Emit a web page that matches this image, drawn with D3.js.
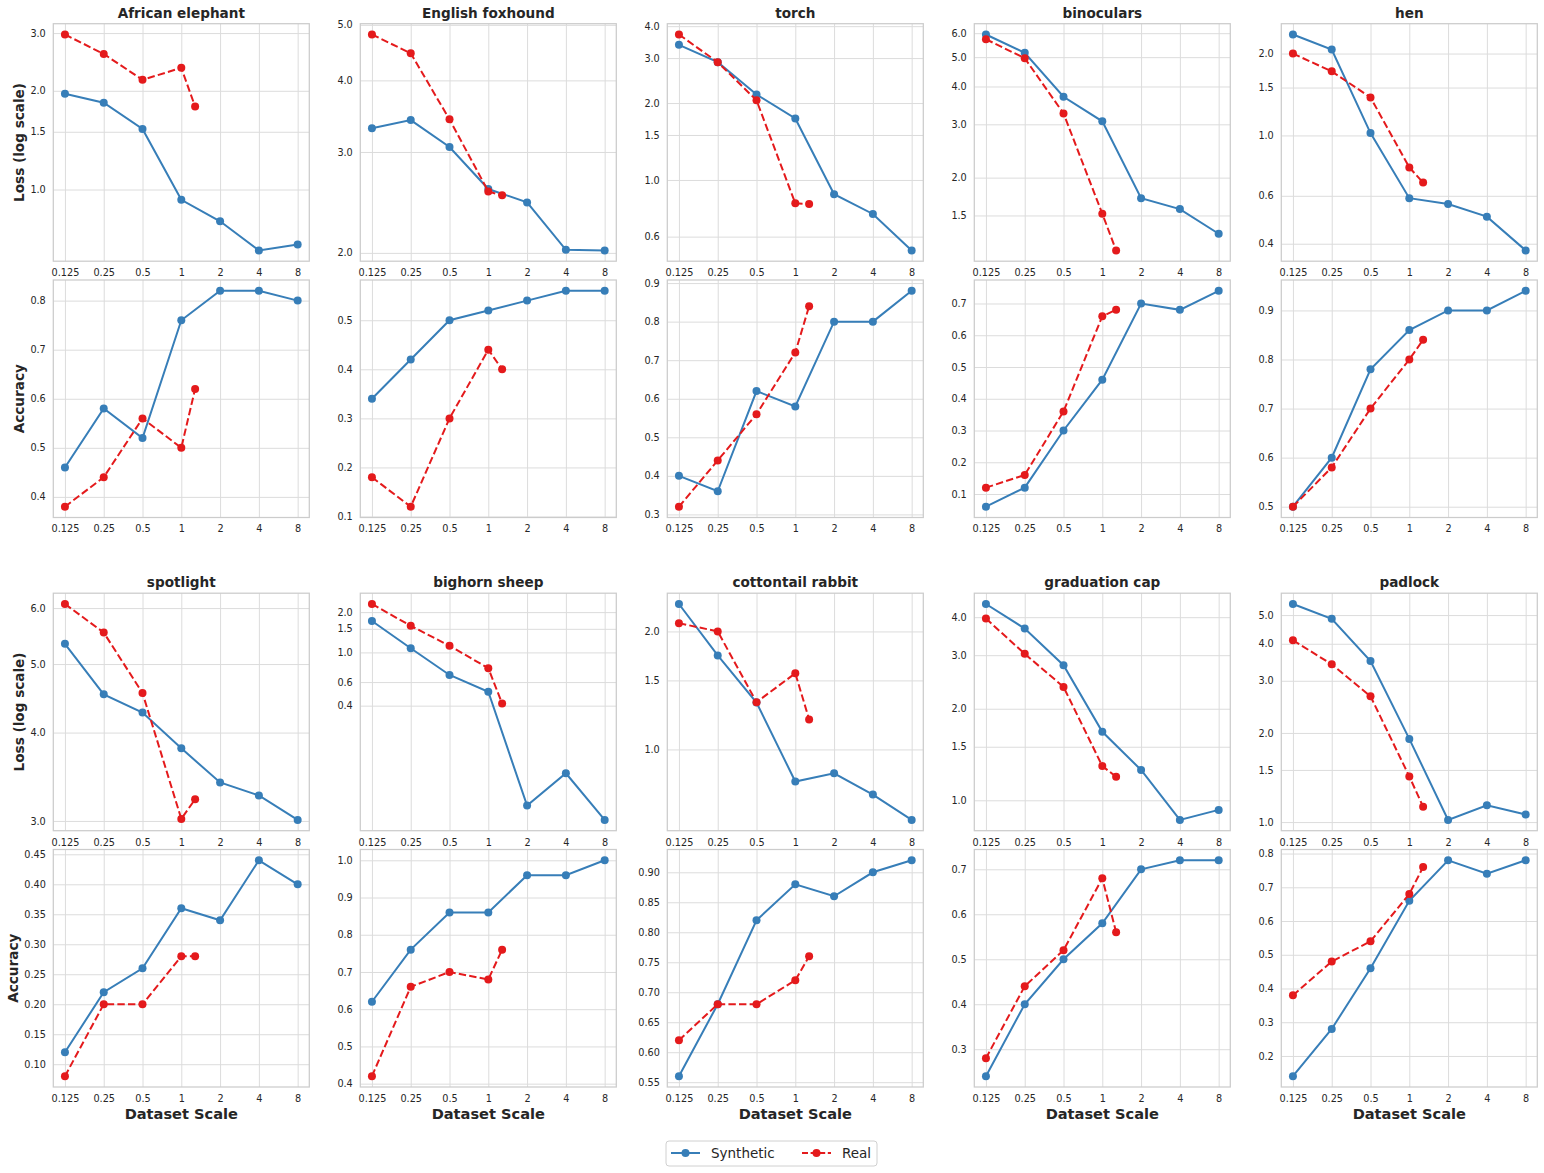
<!DOCTYPE html>
<html><head><meta charset="utf-8">
<script src="https://cdn.jsdelivr.net/npm/d3@7"></script>
<style>
body{margin:0;background:#fff}
svg{display:block;font-family:"DejaVu Sans",sans-serif}
</style>
</head><body>
<svg id="chart" width="1544" height="1173"></svg>
<script>
// ---------------- data ----------------
const classes = ["African elephant","English foxhound","torch","binoculars","hen",
                 "spotlight","bighorn sheep","cottontail rabbit","graduation cap","padlock"];
const scales = [0.125,0.25,0.5,1,2,4,8];
const scaleLabels = ["0.125","0.25","0.5","1","2","4","8"];
const realScales = [0.125,0.25,0.5,1,1.28];
const seriesNames = ["Synthetic","Real"];

const synthLoss = [
  [1.96,1.84,1.53,0.93,0.80,0.652,0.68],
  [3.30,3.41,3.06,2.585,2.45,2.025,2.02],
  [3.38,2.89,2.16,1.74,0.88,0.736,0.53],
  [5.94,5.17,3.70,3.07,1.71,1.575,1.305],
  [2.35,2.07,1.02,0.588,0.56,0.503,0.378],
  [5.34,4.53,4.27,3.80,3.40,3.26,3.01],
  [1.715,1.075,0.678,0.508,0.0716,0.125,0.056],
  [2.35,1.737,1.317,0.828,0.869,0.767,0.661],
  [4.42,3.67,2.78,1.68,1.258,0.862,0.93],
  [5.45,4.86,3.50,1.909,1.017,1.139,1.06]
];
const realLoss = [
  [2.97,2.59,2.16,2.35,1.79],
  [4.81,4.46,3.42,2.56,2.52],
  [3.71,2.89,2.05,0.81,0.806],
  [5.73,4.96,3.26,1.52,1.15],
  [2.00,1.72,1.38,0.763,0.671],
  [6.08,5.54,4.55,3.02,3.22],
  [2.30,1.58,1.12,0.762,0.415],
  [2.10,2.00,1.32,1.564,1.193],
  [3.96,3.03,2.36,1.296,1.195],
  [4.11,3.41,2.66,1.426,1.127]
];
const synthAcc = [
  [0.46,0.58,0.52,0.76,0.82,0.82,0.80],
  [0.34,0.42,0.50,0.52,0.54,0.56,0.56],
  [0.40,0.36,0.62,0.58,0.80,0.80,0.88],
  [0.06,0.12,0.30,0.46,0.70,0.68,0.74],
  [0.50,0.60,0.78,0.86,0.90,0.90,0.94],
  [0.12,0.22,0.26,0.36,0.34,0.44,0.40],
  [0.62,0.76,0.86,0.86,0.96,0.96,1.00],
  [0.56,0.68,0.82,0.88,0.86,0.90,0.92],
  [0.24,0.40,0.50,0.58,0.70,0.72,0.72],
  [0.14,0.28,0.46,0.66,0.78,0.74,0.78]
];
const realAcc = [
  [0.38,0.44,0.56,0.50,0.62],
  [0.18,0.12,0.30,0.44,0.40],
  [0.32,0.44,0.56,0.72,0.84],
  [0.12,0.16,0.36,0.66,0.68],
  [0.50,0.58,0.70,0.80,0.84],
  [0.08,0.20,0.20,0.28,0.28],
  [0.42,0.66,0.70,0.68,0.76],
  [0.62,0.68,0.68,0.72,0.76],
  [0.28,0.44,0.52,0.68,0.56],
  [0.38,0.48,0.54,0.68,0.76]
];
const lossTicks = [0.4,0.6,1.0,1.5,2.0,3.0,4.0,5.0,6.0];

// ---------------- style / layout ----------------
const COLORS = {Synthetic:"#377eb8", Real:"#e41a1c"};
const TXT = "#262626";
const GRID = "#dcdcdc";
const SPINE = "#cccccc";
const colLeft = [53.3,360.3,667.3,974.3,1281.3];
const PW = 256, PH = 237.5;
const blockTop = [23.7, 593.2];
const ROWSTEP = 256.3;
const TICKFS = 9.7;

const svg = d3.select("#chart");
svg.append("rect").attr("width",1544).attr("height",1173).attr("fill","#fff");

function niceAccTicks(lo, hi){
  const raw = (hi-lo)/9;
  const mags = [1,2,2.5,5,10];
  const p = Math.pow(10, Math.floor(Math.log10(raw)));
  let step = 10*p;
  for (const m of mags){ if (m*p >= raw - 1e-12){ step = m*p; break; } }
  const dec = Math.max(0, Math.ceil(-Math.log10(step) - 1e-9) + ((step/Math.pow(10,Math.floor(Math.log10(step))))%1 ? 1 : 0));
  const ticks = [];
  for (let i = Math.ceil(lo/step - 1e-9); i <= Math.floor(hi/step + 1e-9); i++) ticks.push(+(i*step).toFixed(6));
  return {ticks, dec};
}

function panel(x0, y0, synth, real, kind, opts){
  const g = svg.append("g");
  const x = d3.scaleLog().base(2)
     .domain([0.125/Math.pow(2,0.3), 8*Math.pow(2,0.3)])
     .range([x0, x0+PW]);
  const all = synth.concat(real);
  const lo = d3.min(all), hi = d3.max(all);
  let y, yTicks, yFmt;
  if (kind === "loss"){
    const pad = 0.05*Math.log(hi/lo);
    const dom = [lo*Math.exp(-pad), hi*Math.exp(pad)];
    y = d3.scaleLog().domain(dom).range([y0+PH, y0]);
    yTicks = lossTicks.filter(t => t >= dom[0] && t <= dom[1]);
    yFmt = d => d.toFixed(1);
  } else {
    const pad = 0.05*(hi-lo);
    const dom = [lo-pad, hi+pad];
    y = d3.scaleLinear().domain(dom).range([y0+PH, y0]);
    const nt = niceAccTicks(dom[0], dom[1]);
    yTicks = nt.ticks;
    yFmt = d => d.toFixed(nt.dec);
  }

  // x axis with grid
  const xa = g.append("g").attr("transform",`translate(0,${y0+PH})`)
    .call(d3.axisBottom(x).tickValues(scales).tickFormat((d,i)=>scaleLabels[i])
          .tickSize(-PH).tickPadding(8));
  xa.select(".domain").remove();
  xa.selectAll("line").attr("stroke",GRID).attr("stroke-width",1);
  xa.selectAll("text").attr("fill",TXT).attr("font-size",TICKFS).attr("font-family","DejaVu Sans");

  const ya = g.append("g").attr("transform",`translate(${x0},0)`)
    .call(d3.axisLeft(y).tickValues(yTicks).tickFormat(yFmt).tickSize(-PW).tickPadding(7.5));
  ya.select(".domain").remove();
  ya.selectAll("line").attr("stroke",GRID).attr("stroke-width",1);
  ya.selectAll("text").attr("fill",TXT).attr("font-size",TICKFS).attr("font-family","DejaVu Sans");

  // spines
  g.append("rect").attr("x",x0).attr("y",y0).attr("width",PW).attr("height",PH)
    .attr("fill","none").attr("stroke",SPINE).attr("stroke-width",1.25);

  const series = [
    {name:"Synthetic", xs:scales, vs:synth, dash:null},
    {name:"Real", xs:realScales, vs:real, dash:"7.4,3.2"}
  ];
  const line = d3.line().x(d=>x(d[0])).y(d=>y(d[1]));
  series.forEach(s=>{
    const pts = s.xs.map((xv,i)=>[xv, s.vs[i]]);
    g.append("path").attr("d", line(pts)).attr("fill","none")
      .attr("stroke",COLORS[s.name]).attr("stroke-width",2)
      .attr("stroke-dasharray", s.dash);
    g.selectAll(null).data(pts).enter().append("circle")
      .attr("cx",d=>x(d[0])).attr("cy",d=>y(d[1])).attr("r",4)
      .attr("fill",COLORS[s.name]);
  });

  if (opts.title){
    g.append("text").attr("x",x0+PW/2).attr("y",y0-6.2).attr("text-anchor","middle")
      .attr("font-weight","bold").attr("font-size",13.6).attr("fill",TXT).text(opts.title);
  }
  if (opts.ylabel){
    let minX = Infinity;
    ya.selectAll("text").each(function(){ const b=this.getBBox(); const m = this.getCTM(); minX = Math.min(minX, x0 + b.x); });
    const cx = minX - 11.5, cy = y0 + PH/2;
    g.append("text").attr("transform",`translate(${cx},${cy}) rotate(-90)`)
      .attr("text-anchor","middle").attr("dy","0.36em")
      .attr("font-weight","bold").attr("font-size",13.6).attr("fill",TXT).text(opts.ylabel);
  }
  if (opts.xlabel){
    g.append("text").attr("x",x0+PW/2).attr("y",y0+PH+31.5).attr("text-anchor","middle")
      .attr("font-weight","bold").attr("font-size",14.6).attr("fill",TXT).text(opts.xlabel);
  }
}

classes.forEach((name,i)=>{
  const col = i%5, blk = Math.floor(i/5);
  const x0 = colLeft[col];
  const yL = blockTop[blk], yA = blockTop[blk] + ROWSTEP;
  panel(x0, yL, synthLoss[i], realLoss[i], "loss",
        {title:name, ylabel: col===0 ? "Loss (log scale)" : null});
  panel(x0, yA, synthAcc[i], realAcc[i], "acc",
        {ylabel: col===0 ? "Accuracy" : null, xlabel: blk===1 ? "Dataset Scale" : null});
});

// ---------------- legend ----------------
const lg = svg.append("g");
lg.append("rect").attr("x",666).attr("y",1141).attr("width",211).attr("height",25)
  .attr("rx",3).attr("fill","#fff").attr("stroke","#d0d0d0").attr("stroke-width",1);
const legendItems = [
  {name:seriesNames[0], x:671, dash:null},
  {name:seriesNames[1], x:802, dash:"7.4,3.2"}
];
legendItems.forEach(it=>{
  lg.append("line").attr("x1",it.x).attr("x2",it.x+29).attr("y1",1153).attr("y2",1153)
    .attr("stroke",COLORS[it.name]).attr("stroke-width",2).attr("stroke-dasharray", it.dash ? "6,2.6" : null);
  lg.append("circle").attr("cx",it.x+14.5).attr("cy",1153).attr("r",4).attr("fill",COLORS[it.name]);
  lg.append("text").attr("x",it.x+40).attr("y",1158).attr("font-size",13.5).attr("fill",TXT).text(it.name);
});
</script>
</body></html>
